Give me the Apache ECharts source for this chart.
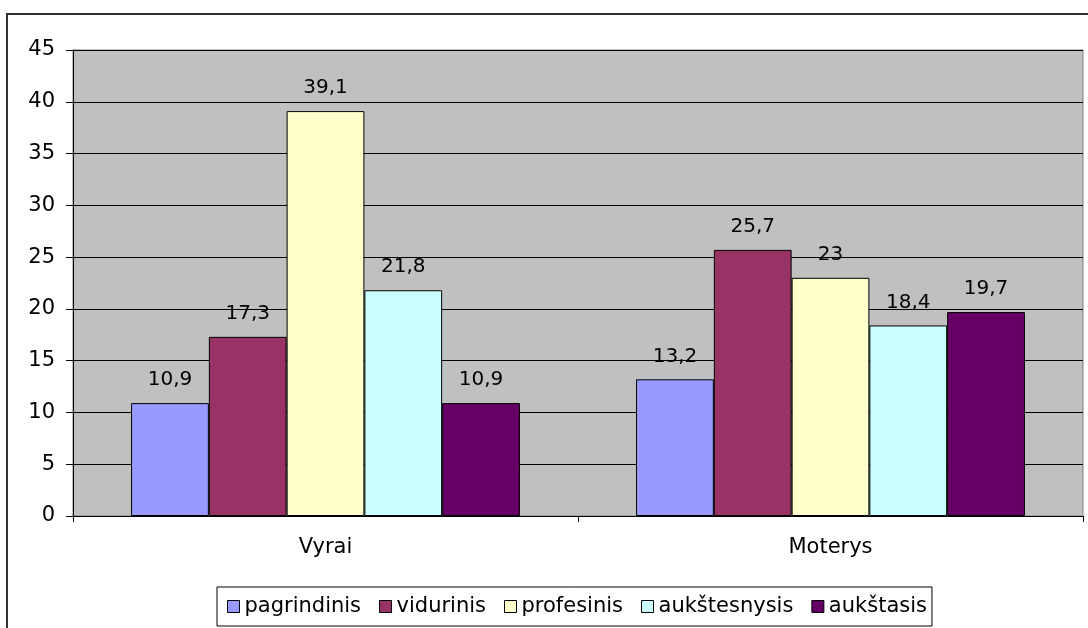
<!DOCTYPE html>
<html>
<head>
<meta charset="utf-8">
<script src="https://cdn.jsdelivr.net/npm/echarts@6/dist/echarts.min.js"></script>
<style>
html,body{margin:0;padding:0;background:#fff;}
#c{width:1088px;height:628px;}
</style>
</head>
<body>
<div id="c"></div>
<script>
var categories = ['Vyrai', 'Moterys'];
var seriesNames = ['pagrindinis', 'vidurinis', 'profesinis', 'aukštesnysis', 'aukštasis'];
var pagrindinis = [10.9, 13.2];
var vidurinis = [17.3, 25.7];
var profesinis = [39.1, 23];
var aukstesnysis = [21.8, 18.4];
var aukstasis = [10.9, 19.7];
var seriesValues = [pagrindinis, vidurinis, profesinis, aukstesnysis, aukstasis];
var colors = ['#9999FF', '#993366', '#FFFFCC', '#CCFFFF', '#660066'];
var yTicks = { min: 0, max: 45, interval: 5 };

var FONT = '"DejaVu Sans", sans-serif';
var chart = echarts.init(document.getElementById('c'), null, { renderer: 'canvas' });

var series = seriesNames.map(function (name, i) {
  return {
    name: name,
    type: 'bar',
    data: seriesValues[i],
    barGap: '0%',
    barCategoryGap: '23%',
    itemStyle: { color: colors[i], borderColor: '#000', borderWidth: 1 },
    label: {
      show: true,
      position: 'top',
      distance: 13,
      color: '#000',
      fontFamily: FONT,
      fontSize: 20,
      formatter: function (p) { return String(p.value).replace('.', ','); }
    },
    emphasis: { disabled: true }
  };
});

chart.setOption({
  animation: false,
  color: colors,
  textStyle: { fontFamily: FONT },
  graphic: [{
    type: 'rect',
    shape: { x: 7, y: 14, width: 1200, height: 800 },
    style: { fill: 'none', stroke: '#333', lineWidth: 2 },
    silent: true
  }],
  grid: {
    left: 73, top: 50, right: 5, bottom: 112,
    show: true,
    backgroundColor: '#C0C0C0',
    borderColor: '#808080',
    borderWidth: 1
  },
  legend: {
    data: seriesNames,
    left: 217,
    top: 587,
    orient: 'horizontal',
    icon: 'rect',
    itemWidth: 12,
    itemHeight: 12,
    itemGap: 18,
    padding: [9, 5, 9, 10],
    borderColor: '#000',
    borderWidth: 1,
    backgroundColor: '#fff',
    itemStyle: { borderColor: '#000', borderWidth: 1 },
    textStyle: { color: '#000', fontSize: 21, fontFamily: FONT },
    selectedMode: false
  },
  xAxis: {
    type: 'category',
    data: categories,
    axisLine: { show: true, lineStyle: { color: '#000', width: 1 } },
    axisTick: { show: true, length: 6, inside: false, alignWithLabel: false, lineStyle: { color: '#000' } },
    axisLabel: { color: '#000', fontSize: 21, fontFamily: FONT, margin: 21 },
    splitLine: { show: false }
  },
  yAxis: {
    type: 'value',
    min: yTicks.min,
    max: yTicks.max,
    interval: yTicks.interval,
    axisLine: { show: true, lineStyle: { color: '#000', width: 1 } },
    axisTick: { show: true, length: 7, inside: false, lineStyle: { color: '#000' } },
    axisLabel: { color: '#000', fontSize: 21, fontFamily: FONT, margin: 18 },
    splitLine: { show: true, lineStyle: { color: '#000', width: 1 } }
  },
  series: series
});
</script>
</body>
</html>
